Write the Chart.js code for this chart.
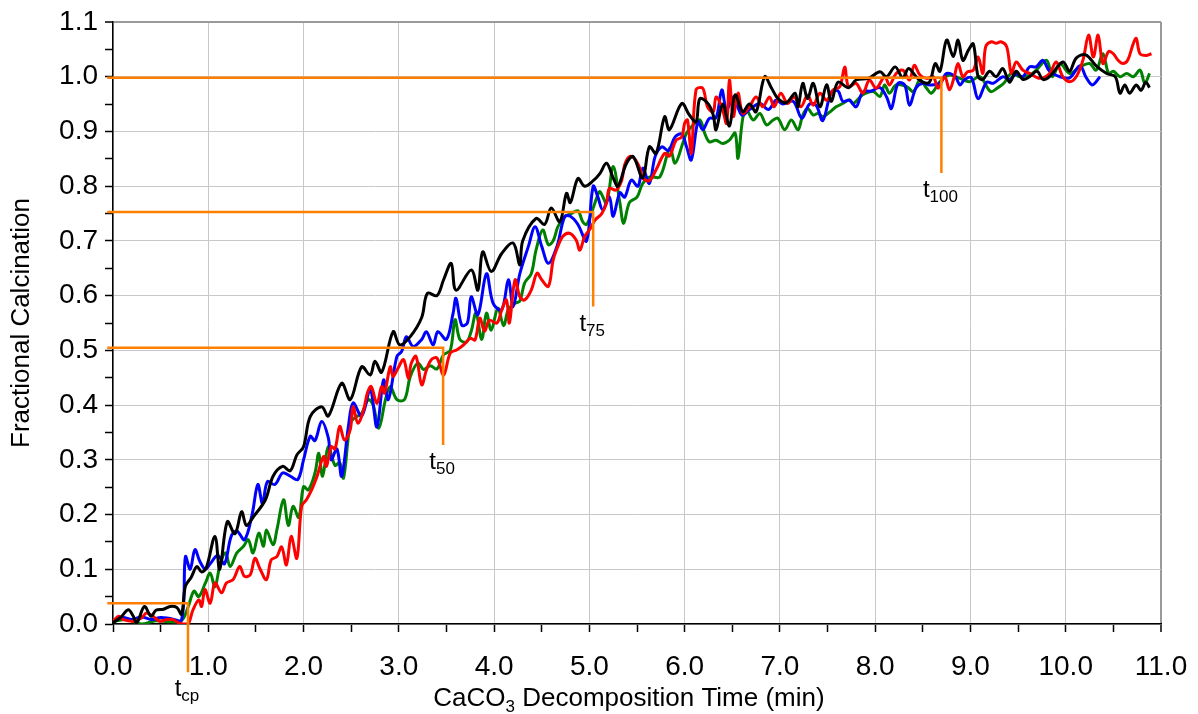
<!DOCTYPE html>
<html>
<head>
<meta charset="utf-8">
<title>Fractional Calcination</title>
<script src="https://cdn.jsdelivr.net/npm/chart.js@4.4.0/dist/chart.umd.min.js"></script>
<style>
  html, body { margin: 0; padding: 0; background: #fff; }
  #wrap { width: 1198px; height: 714px; }
</style>
</head>
<body>
<div id="wrap"><canvas id="calcChart" width="1198" height="714"></canvas></div>
<script>
// each run: [time (min), fractional calcination]
const blackRun = [
  [0,0.002],[0.08,0.012],[0.16,0.026],[0.21,0.015],[0.25,0.002],[0.33,0.032],[0.4,0.014],[0.45,0.025],[0.53,0.027],[0.6,0.032],
  [0.67,0.03],[0.72,0.018],[0.76,0.069],[0.82,0.085],[0.88,0.105],[0.93,0.095],[0.98,0.103],[1.07,0.16],[1.12,0.10],[1.2,0.187],
  [1.28,0.165],[1.35,0.205],[1.4,0.18],[1.47,0.195],[1.6,0.227],[1.68,0.27],[1.78,0.288],[1.86,0.28],[1.93,0.309],[2.0,0.324],
  [2.07,0.379],[2.19,0.397],[2.26,0.38],[2.4,0.44],[2.49,0.41],[2.61,0.47],[2.7,0.455],[2.75,0.48],[2.82,0.46],[2.94,0.534],
  [3.01,0.51],[3.12,0.525],[3.24,0.56],[3.3,0.604],[3.4,0.60],[3.47,0.629],[3.55,0.659],[3.6,0.61],[3.76,0.647],[3.83,0.61],
  [3.88,0.68],[3.97,0.644],[4.08,0.677],[4.2,0.696],[4.27,0.656],[4.3,0.70],[4.44,0.741],[4.53,0.73],[4.6,0.76],[4.69,0.735],
  [4.76,0.787],[4.8,0.77],[4.88,0.814],[4.95,0.80],[5.04,0.81],[5.11,0.823],[5.18,0.842],[5.25,0.815],[5.3,0.80],[5.39,0.842],
  [5.46,0.854],[5.56,0.815],[5.63,0.872],[5.7,0.86],[5.79,0.927],[5.84,0.903],[5.97,0.951],[6.05,0.93],[6.12,0.918],[6.16,0.96],
  [6.25,0.95],[6.3,0.93],[6.33,0.903],[6.4,0.95],[6.47,0.91],[6.53,0.967],[6.61,0.936],[6.68,0.95],[6.75,0.936],[6.84,1.0],
  [6.91,0.98],[6.98,0.96],[7.07,0.953],[7.16,0.97],[7.19,0.945],[7.24,0.988],[7.29,0.96],[7.35,0.988],[7.42,0.945],[7.49,0.985],
  [7.54,0.955],[7.61,0.99],[7.72,0.98],[7.8,0.994],[7.93,0.997],[8.05,1.009],[8.12,1.0],[8.21,1.018],[8.29,0.998],[8.35,1.015],
  [8.43,1.0],[8.5,0.99],[8.57,0.99],[8.63,1.024],[8.68,1.01],[8.75,1.067],[8.82,1.037],[8.87,1.067],[8.92,1.03],[8.98,1.049],
  [9.03,1.06],[9.08,1.0],[9.13,0.995],[9.2,1.01],[9.27,1.0],[9.34,1.015],[9.41,0.99],[9.48,1.01],[9.55,0.995],[9.62,1.0],
  [9.7,1.01],[9.76,0.995],[9.83,1.0],[9.97,1.027],[10.04,1.01],[10.11,1.034],[10.21,1.04],[10.32,1.02],[10.43,1.006],[10.52,1.0],
  [10.57,0.97],[10.62,0.985],[10.67,0.97],[10.74,0.985],[10.79,0.975],[10.84,0.99],[10.88,0.98]
];

const blueRun = [
  [0,0.005],[0.1,0.012],[0.2,0.008],[0.3,0.013],[0.4,0.008],[0.5,0.012],[0.6,0.01],[0.72,0.008],[0.76,0.123],[0.81,0.10],
  [0.86,0.136],[0.91,0.115],[0.97,0.10],[1.02,0.11],[1.1,0.125],[1.17,0.11],[1.24,0.16],[1.3,0.17],[1.38,0.154],[1.46,0.2],
  [1.52,0.255],[1.57,0.22],[1.62,0.26],[1.7,0.255],[1.78,0.276],[1.86,0.27],[1.94,0.264],[2.0,0.30],[2.07,0.343],[2.12,0.335],
  [2.19,0.37],[2.26,0.34],[2.29,0.30],[2.35,0.32],[2.4,0.27],[2.47,0.36],[2.52,0.404],[2.61,0.38],[2.7,0.428],[2.77,0.36],
  [2.84,0.446],[2.89,0.41],[2.98,0.489],[3.03,0.498],[3.08,0.525],[3.15,0.507],[3.24,0.52],[3.29,0.534],[3.36,0.51],[3.41,0.534],
  [3.5,0.52],[3.57,0.568],[3.6,0.595],[3.66,0.546],[3.72,0.55],[3.76,0.598],[3.83,0.565],[3.92,0.64],[3.99,0.586],[4.08,0.574],
  [4.15,0.629],[4.2,0.58],[4.27,0.64],[4.36,0.69],[4.43,0.726],[4.5,0.69],[4.57,0.659],[4.66,0.69],[4.74,0.744],[4.8,0.745],
  [4.88,0.73],[4.97,0.70],[5.04,0.80],[5.09,0.78],[5.14,0.757],[5.21,0.78],[5.25,0.745],[5.32,0.788],[5.37,0.78],[5.44,0.811],
  [5.51,0.80],[5.56,0.833],[5.63,0.805],[5.69,0.854],[5.76,0.872],[5.83,0.865],[5.9,0.89],[5.97,0.895],[6.02,0.872],[6.07,0.848],
  [6.14,0.918],[6.19,0.903],[6.26,0.924],[6.33,0.925],[6.39,0.976],[6.44,0.94],[6.51,0.963],[6.6,0.93],[6.68,0.94],[6.79,0.951],
  [6.88,0.94],[6.96,0.957],[7.03,0.95],[7.14,0.955],[7.23,0.924],[7.31,0.95],[7.38,0.948],[7.45,0.92],[7.54,0.972],[7.61,0.974],
  [7.66,0.955],[7.73,0.957],[7.8,0.945],[7.87,0.972],[7.96,0.974],[8.05,0.98],[8.12,0.963],[8.17,0.942],[8.24,0.988],[8.31,0.985],
  [8.36,0.948],[8.43,0.98],[8.5,0.988],[8.57,0.985],[8.68,0.988],[8.75,1.006],[8.84,1.0],[8.89,0.985],[8.94,0.995],[9.01,0.998],
  [9.08,0.96],[9.17,0.99],[9.24,0.988],[9.34,1.0],[9.41,0.995],[9.48,1.005],[9.55,1.0],[9.62,1.018],[9.69,1.018],[9.76,1.03],
  [9.83,1.01],[9.94,1.0],[10.04,0.998],[10.15,1.02],[10.21,1.0],[10.28,0.985],[10.36,1.0]
];

const greenRun = [
  [0,0.005],[0.15,0.008],[0.3,0.0],[0.45,0.006],[0.6,0.004],[0.72,0.006],[0.79,0.032],[0.85,0.06],[0.9,0.05],[0.97,0.075],
  [1.02,0.093],[1.07,0.068],[1.12,0.105],[1.18,0.13],[1.23,0.105],[1.3,0.13],[1.37,0.142],[1.42,0.154],[1.47,0.13],[1.53,0.166],
  [1.58,0.142],[1.61,0.172],[1.68,0.145],[1.72,0.172],[1.79,0.227],[1.84,0.18],[1.89,0.215],[1.95,0.195],[2.0,0.251],[2.05,0.245],
  [2.12,0.276],[2.16,0.312],[2.2,0.27],[2.26,0.324],[2.33,0.29],[2.38,0.295],[2.42,0.267],[2.49,0.367],[2.54,0.377],[2.61,0.385],
  [2.68,0.41],[2.73,0.40],[2.79,0.358],[2.86,0.41],[2.91,0.434],[2.98,0.41],[3.06,0.41],[3.12,0.452],[3.2,0.477],[3.26,0.465],
  [3.33,0.472],[3.4,0.466],[3.47,0.492],[3.54,0.50],[3.59,0.556],[3.64,0.52],[3.71,0.515],[3.76,0.535],[3.81,0.568],[3.87,0.52],
  [3.92,0.568],[3.97,0.537],[4.04,0.577],[4.1,0.545],[4.15,0.575],[4.22,0.586],[4.27,0.59],[4.32,0.623],[4.39,0.64],[4.44,0.683],
  [4.51,0.72],[4.57,0.693],[4.62,0.70],[4.67,0.726],[4.74,0.744],[4.81,0.75],[4.88,0.755],[4.93,0.735],[4.97,0.73],[5.02,0.75],
  [5.08,0.78],[5.11,0.79],[5.18,0.77],[5.25,0.836],[5.32,0.77],[5.36,0.732],[5.42,0.77],[5.5,0.78],[5.56,0.805],[5.635,0.817],
  [5.74,0.817],[5.845,0.87],[5.9,0.842],[5.98,0.878],[6.02,0.897],[6.09,0.912],[6.16,0.921],[6.21,0.897],[6.26,0.881],[6.33,0.884],
  [6.4,0.878],[6.47,0.884],[6.53,0.897],[6.56,0.851],[6.61,0.924],[6.65,0.939],[6.72,0.921],[6.79,0.933],[6.86,0.912],[6.93,0.921],
  [6.98,0.924],[7.05,0.903],[7.12,0.921],[7.19,0.903],[7.24,0.93],[7.29,0.942],[7.35,0.93],[7.4,0.933],[7.45,0.927],[7.52,0.935],
  [7.59,0.945],[7.66,0.951],[7.73,0.958],[7.77,0.951],[7.87,0.967],[7.98,0.973],[8.05,0.964],[8.1,0.985],[8.15,0.97],[8.22,0.985],
  [8.33,0.982],[8.4,0.973],[8.47,0.994],[8.54,0.979],[8.59,0.97],[8.68,0.991],[8.78,1.003],[8.89,0.997],[8.99,0.991],[9.1,1.0],
  [9.21,0.973],[9.28,0.979],[9.35,0.988],[9.43,1.006],[9.52,1.0],[9.62,1.003],[9.69,1.012],[9.8,1.03],[9.86,1.0],[9.94,1.024],
  [10.04,1.006],[10.15,1.018],[10.25,1.024],[10.32,1.012],[10.39,1.042],[10.45,1.006],[10.5,1.01],[10.57,1.0],[10.64,1.006],[10.71,1.0],
  [10.78,1.012],[10.83,0.988],[10.88,1.006]
];

const redRun = [
  [0,0.005],[0.06,0.014],[0.11,0.008],[0.21,0.005],[0.3,0.011],[0.35,0.02],[0.42,0.014],[0.49,0.005],[0.56,0.008],[0.63,0.008],
  [0.69,0.002],[0.74,0.0],[0.79,0.0],[0.84,0.026],[0.9,0.044],[0.93,0.032],[0.965,0.063],[1.02,0.038],[1.07,0.075],[1.14,0.057],
  [1.19,0.075],[1.26,0.081],[1.33,0.105],[1.38,0.087],[1.44,0.09],[1.49,0.12],[1.54,0.102],[1.61,0.081],[1.66,0.117],[1.72,0.123],
  [1.77,0.141],[1.82,0.108],[1.87,0.16],[1.93,0.12],[1.98,0.215],[2.03,0.227],[2.085,0.245],[2.14,0.269],[2.21,0.306],[2.24,0.288],
  [2.29,0.324],[2.33,0.32],[2.38,0.361],[2.43,0.336],[2.49,0.355],[2.52,0.397],[2.57,0.367],[2.63,0.391],[2.67,0.422],[2.71,0.434],
  [2.77,0.403],[2.82,0.434],[2.85,0.422],[2.91,0.47],[2.94,0.452],[2.99,0.467],[3.05,0.483],[3.1,0.449],[3.13,0.476],[3.18,0.489],
  [3.24,0.437],[3.29,0.464],[3.34,0.483],[3.4,0.486],[3.47,0.455],[3.54,0.495],[3.61,0.501],[3.68,0.51],[3.75,0.522],[3.8,0.519],
  [3.85,0.559],[3.9,0.535],[3.95,0.555],[4.03,0.55],[4.08,0.574],[4.13,0.592],[4.16,0.55],[4.22,0.629],[4.27,0.598],[4.32,0.592],
  [4.39,0.61],[4.45,0.641],[4.5,0.629],[4.57,0.617],[4.62,0.665],[4.67,0.69],[4.72,0.708],[4.79,0.714],[4.86,0.702],[4.9,0.683],
  [4.95,0.708],[5.0,0.72],[5.06,0.738],[5.13,0.75],[5.18,0.769],[5.21,0.796],[5.28,0.793],[5.34,0.811],[5.37,0.839],[5.42,0.854],
  [5.47,0.851],[5.53,0.833],[5.56,0.815],[5.63,0.81],[5.7,0.83],[5.79,0.86],[5.84,0.855],[5.91,0.884],[5.97,0.89],[6.0,0.915],
  [6.03,0.921],[6.07,0.86],[6.12,0.976],[6.19,0.979],[6.24,0.945],[6.3,0.936],[6.33,0.963],[6.39,0.945],[6.44,0.915],[6.47,0.994],
  [6.51,0.927],[6.56,0.97],[6.61,0.933],[6.68,0.945],[6.75,0.963],[6.82,0.945],[6.89,0.963],[6.94,0.945],[7.01,0.97],[7.08,0.951],
  [7.15,0.963],[7.22,0.945],[7.29,0.966],[7.35,0.948],[7.42,0.97],[7.49,0.957],[7.56,0.976],[7.63,0.982],[7.68,1.018],[7.72,0.982],
  [7.8,0.988],[7.87,0.97],[7.94,0.994],[8.01,0.979],[8.1,1.0],[8.15,0.985],[8.22,1.006],[8.29,1.012],[8.36,0.994],[8.41,1.021],
  [8.47,1.003],[8.54,0.997],[8.61,1.0],[8.66,0.979],[8.73,1.0],[8.78,0.976],[8.83,1.0],[8.87,1.024],[8.92,1.0],[8.97,1.009],
  [9.03,1.012],[9.08,1.036],[9.13,1.006],[9.16,1.055],[9.22,1.064],[9.27,1.061],[9.32,1.064],[9.38,1.055],[9.43,1.006],[9.48,1.027],
  [9.55,1.012],[9.62,1.006],[9.73,0.997],[9.83,1.006],[9.9,1.027],[9.97,1.0],[10.04,0.991],[10.11,1.0],[10.18,1.03],[10.24,1.076],
  [10.29,1.036],[10.34,1.076],[10.39,1.024],[10.45,1.046],[10.5,1.042],[10.55,1.03],[10.6,1.024],[10.65,1.03],[10.71,1.061],[10.74,1.07],
  [10.78,1.042],[10.85,1.039],[10.9,1.042]
];

// characteristic times: t_cp, t_50, t_75, t_100
const markTimes  = [0.787, 3.465, 5.04, 8.695];
const markLevels = [0.038, 0.505, 0.753, 0.998];
const markDrops  = [-0.088, 0.327, 0.58, 0.824];
const markSubs   = ['cp', '50', '75', '100'];
const markStart  = -0.06;

const xTickValues = [0,0.5,1,1.5,2,2.5,3,3.5,4,4.5,5,5.5,6,6.5,7,7.5,8,8.5,9,9.5,10,10.5,11];
const yTickValues = [0,0.05,0.1,0.15,0.2,0.25,0.3,0.35,0.4,0.45,0.5,0.55,0.6,0.65,0.7,0.75,0.8,0.85,0.9,0.95,1.0,1.05,1.1];

const FONT = "'Liberation Sans', Arial, sans-serif";
const ORANGE = '#ff7f00';

function toPoints(run) {
  return run.map(p => ({x: p[0], y: p[1]}));
}

function isWhole(v, step) {
  const r = v / step;
  return Math.abs(r - Math.round(r)) < 1e-6;
}

// orange construction lines for each characteristic time
const markSets = markTimes.map((t, i) => ({
  data: [
    {x: markStart, y: markLevels[i]},
    {x: t, y: markLevels[i]},
    {x: t, y: markDrops[i]}
  ],
  borderColor: ORANGE,
  borderWidth: 2.5,
  pointRadius: 0,
  tension: 0,
  clip: false
}));

function runSet(run, color) {
  return {
    data: toPoints(run),
    borderColor: color,
    borderWidth: 3,
    pointRadius: 0,
    tension: 0.35,
    fill: false
  };
}

// titles with subscripts and the t labels
const textPlugin = {
  id: 'calcText',
  afterDraw(chart) {
    const {ctx, chartArea, scales} = chart;
    ctx.save();
    ctx.fillStyle = '#000';

    // y title
    ctx.save();
    ctx.translate(22, (chartArea.top + chartArea.bottom) / 2);
    ctx.rotate(-Math.PI / 2);
    ctx.font = '26px ' + FONT;
    ctx.textAlign = 'center';
    ctx.textBaseline = 'middle';
    ctx.fillText('Fractional Calcination', 0, 0);
    ctx.restore();

    // x title: CaCO3 Decomposition Time (min)
    ctx.textAlign = 'left';
    ctx.textBaseline = 'alphabetic';
    const big = '26px ' + FONT, small = '17px ' + FONT;
    ctx.font = big;
    const w1 = ctx.measureText('CaCO').width;
    const w3 = ctx.measureText(' Decomposition Time (min)').width;
    ctx.font = small;
    const w2 = ctx.measureText('3').width;
    const x = (chartArea.left + chartArea.right) / 2 - 8 - (w1 + w2 + w3) / 2;
    const base = 706;
    ctx.font = big;
    ctx.fillText('CaCO', x, base);
    ctx.font = small;
    ctx.fillText('3', x + w1, base + 6);
    ctx.font = big;
    ctx.fillText(' Decomposition Time (min)', x + w1 + w2, base);

    // t labels under each drop line
    markTimes.forEach((t, i) => {
      const px = scales.x.getPixelForValue(t);
      const py = scales.y.getPixelForValue(markDrops[i]);
      ctx.font = '24px ' + FONT;
      const tw = ctx.measureText('t').width;
      ctx.font = '17px ' + FONT;
      const sw = ctx.measureText(markSubs[i]).width;
      const left = px - (tw + sw) / 2 - 1;
      const b = py + 24;
      ctx.font = '24px ' + FONT;
      ctx.fillText('t', left, b);
      ctx.font = '17px ' + FONT;
      ctx.fillText(markSubs[i], left + tw, b + 5);
    });
    ctx.restore();
  }
};

new Chart(document.getElementById('calcChart'), {
  type: 'line',
  data: {
    datasets: [
      ...markSets,
      runSet(blackRun, '#000000'),
      runSet(redRun, '#ff0000'),
      runSet(blueRun, '#0000ff'),
      runSet(greenRun, '#008000')
    ]
  },
  options: {
    responsive: false,
    animation: false,
    layout: {padding: {left: 0, right: 37, top: 22, bottom: 0}},
    plugins: {legend: {display: false}, tooltip: {enabled: false}},
    scales: {
      x: {
        type: 'linear',
        min: 0,
        max: 11,
        afterBuildTicks: s => { s.ticks = xTickValues.map(v => ({value: v})); },
        afterFit: s => { s.height = 90; s.paddingLeft = 0; s.paddingRight = 0; },
        ticks: {
          callback: v => isWhole(v, 1) ? v.toFixed(1) : '',
          font: {family: FONT, size: 28},
          color: '#000',
          padding: 18,
          maxRotation: 0,
          autoSkip: false
        },
        grid: {
          color: c => {
            const v = c.tick ? c.tick.value : 0;
            if (!isWhole(v, 1)) return 'rgba(0,0,0,0)';
            return v === 11 ? '#9a9a9a' : '#c8c8c8';
          },
          lineWidth: c => (c.tick && c.tick.value === 11) ? 2 : 1,
          tickColor: '#000',
          tickLength: 8,
          tickWidth: 1.5
        },
        border: {color: '#000', width: 1.5}
      },
      y: {
        type: 'linear',
        min: 0,
        max: 1.1,
        afterBuildTicks: s => { s.ticks = yTickValues.map(v => ({value: v})); },
        afterFit: s => { s.width = 113; s.paddingTop = 0; s.paddingBottom = 0; },
        ticks: {
          callback: v => isWhole(v, 0.1) ? v.toFixed(1) : '',
          font: {family: FONT, size: 28},
          color: '#000',
          padding: 7,
          autoSkip: false
        },
        grid: {
          color: c => {
            const v = c.tick ? c.tick.value : 0;
            if (!isWhole(v, 0.1)) return 'rgba(0,0,0,0)';
            return Math.abs(v - 1.1) < 1e-6 ? '#9a9a9a' : '#c8c8c8';
          },
          lineWidth: c => (c.tick && Math.abs(c.tick.value - 1.1) < 1e-6) ? 2 : 1,
          tickColor: '#000',
          tickLength: 8,
          tickWidth: 1.5
        },
        border: {color: '#000', width: 1.5}
      }
    }
  },
  plugins: [textPlugin]
});
</script>
</body>
</html>
